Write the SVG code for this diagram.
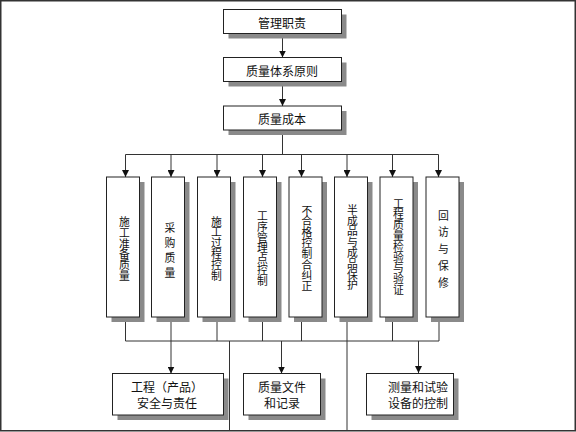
<svg xmlns="http://www.w3.org/2000/svg" width="576" height="432" viewBox="0 0 576 432">
<defs>
<style>
.box{fill:#fff;stroke:#222;stroke-width:1}
.sh{fill:#8a8a8a}
.ln{fill:none;stroke:#333;stroke-width:1}
.t{font-family:"Noto Sans CJK SC","Liberation Sans",sans-serif;font-size:12px;fill:#111;text-anchor:middle;dominant-baseline:central}
.v{font-size:10.8px;writing-mode:vertical-rl;text-orientation:upright}
</style>
<marker id="ah" markerUnits="userSpaceOnUse" markerWidth="7" markerHeight="7" refX="7" refY="3.5" orient="auto">
<path d="M0,0 L7,3.5 L0,7 z" fill="#111"/>
</marker>
</defs>
<rect x="0.75" y="0.75" width="574.5" height="430" fill="#fff" stroke="#333" stroke-width="1.5"/>
<g id="connectors">
<line class="ln" x1="282.5" y1="33.5" x2="282.5" y2="57.5" marker-end="url(#ah)"/>
<line class="ln" x1="282.5" y1="81.5" x2="282.5" y2="106" marker-end="url(#ah)"/>
<line class="ln" x1="282.5" y1="130" x2="282.5" y2="154.5"/>
<line class="ln" x1="125.5" y1="154.5" x2="438.5" y2="154.5"/>
<line class="ln" x1="125.5" y1="154.5" x2="125.5" y2="177" marker-end="url(#ah)"/>
<line class="ln" x1="171" y1="154.5" x2="171" y2="177" marker-end="url(#ah)"/>
<line class="ln" x1="217" y1="154.5" x2="217" y2="177" marker-end="url(#ah)"/>
<line class="ln" x1="262.5" y1="154.5" x2="262.5" y2="177" marker-end="url(#ah)"/>
<line class="ln" x1="301.5" y1="154.5" x2="301.5" y2="177" marker-end="url(#ah)"/>
<line class="ln" x1="347" y1="154.5" x2="347" y2="177" marker-end="url(#ah)"/>
<line class="ln" x1="392.5" y1="154.5" x2="392.5" y2="177" marker-end="url(#ah)"/>
<line class="ln" x1="438.5" y1="154.5" x2="438.5" y2="177" marker-end="url(#ah)"/>
<line class="ln" x1="125.5" y1="317" x2="125.5" y2="341"/>
<line class="ln" x1="171" y1="317" x2="171" y2="341"/>
<line class="ln" x1="217" y1="317" x2="217" y2="341"/>
<line class="ln" x1="262.5" y1="317" x2="262.5" y2="341"/>
<line class="ln" x1="301.5" y1="317" x2="301.5" y2="341"/>
<line class="ln" x1="347" y1="317" x2="347" y2="430"/>
<line class="ln" x1="392.5" y1="317" x2="392.5" y2="341"/>
<line class="ln" x1="439" y1="317" x2="439" y2="341"/>
<line class="ln" x1="125.5" y1="341" x2="439" y2="341"/>
<line class="ln" x1="229.5" y1="341" x2="229.5" y2="430"/>
<line class="ln" x1="171" y1="341" x2="171" y2="373.5" marker-end="url(#ah)"/>
<line class="ln" x1="281.5" y1="341" x2="281.5" y2="373.5" marker-end="url(#ah)"/>
<line class="ln" x1="418.5" y1="341" x2="418.5" y2="373" marker-end="url(#ah)"/>
</g>
<g id="n1"><rect class="sh" x="228.5" y="14.5" width="118" height="24"/><rect class="box" x="223.5" y="9.5" width="118" height="24"/><text class="t" x="282" y="22">管理职责</text></g>
<g id="n2"><rect class="sh" x="228.5" y="62.5" width="118" height="24"/><rect class="box" x="223.5" y="57.5" width="118" height="24"/><text class="t" x="282" y="70">质量体系原则</text></g>
<g id="n3"><rect class="sh" x="228.5" y="111" width="118" height="24"/><rect class="box" x="223.5" y="106" width="118" height="24"/><text class="t" x="282" y="118.5">质量成本</text></g>

<g id="v1"><rect class="sh" x="111.5" y="182" width="33" height="140"/><rect class="box" x="106.5" y="177" width="33" height="140"/>
<text class="t v" x="124.5" y="249">施工准备质量</text></g>
<g id="v2"><rect class="sh" x="156.5" y="182" width="33" height="140"/><rect class="box" x="151.5" y="177" width="33" height="140"/>
<text class="t v" x="170" y="252" letter-spacing="4.2">采购质量</text></g>
<g id="v3"><rect class="sh" x="202.5" y="182" width="33" height="140"/><rect class="box" x="197.5" y="177" width="33" height="140"/>
<text class="t v" x="216.5" y="248.5">施工过程控制</text></g>
<g id="v4"><rect class="sh" x="248.5" y="182" width="33" height="140"/><rect class="box" x="243.5" y="177" width="33" height="140"/>
<text class="t v" x="262.5" y="248.3">工序管理点控制</text></g>
<g id="v5"><rect class="sh" x="294" y="182" width="33" height="140"/><rect class="box" x="289" y="177" width="33" height="140"/>
<text class="t v" x="307" y="248.3">不合格控制合纠正</text></g>
<g id="v6"><rect class="sh" x="339.5" y="182" width="33" height="140"/><rect class="box" x="334.5" y="177" width="33" height="140"/>
<text class="t v" x="352.5" y="247.5">半成品与成品保护</text></g>
<g id="v7"><rect class="sh" x="385" y="182" width="33" height="140"/><rect class="box" x="380" y="177" width="33" height="140"/>
<text class="t v" x="398.5" y="246.7">工程质量检验与验证</text></g>
<g id="v8"><rect class="sh" x="431" y="182" width="33" height="140"/><rect class="box" x="426" y="177" width="33" height="140"/>
<text class="t v" x="443.5" y="252" letter-spacing="5.9">回访与保修</text></g>

<g id="b1"><rect class="sh" x="117.5" y="378.5" width="111" height="41.5"/><rect class="box" x="112.5" y="373.5" width="111" height="41.5"/><text class="t" x="167" y="386.5">工程（产品）</text><text class="t" x="167" y="402">安全与责任</text></g>
<g id="b2"><rect class="sh" x="248.5" y="378.5" width="77" height="41.5"/><rect class="box" x="243.5" y="373.5" width="77" height="41.5"/><text class="t" x="282" y="386.5">质量文件</text><text class="t" x="282" y="402">和记录</text></g>
<g id="b3"><rect class="sh" x="371.5" y="378.5" width="87" height="41.5"/><rect class="box" x="366.5" y="373.5" width="87" height="41.5"/><text class="t" x="418" y="386.5">测量和试验</text><text class="t" x="418" y="402">设备的控制</text></g>
</svg>
